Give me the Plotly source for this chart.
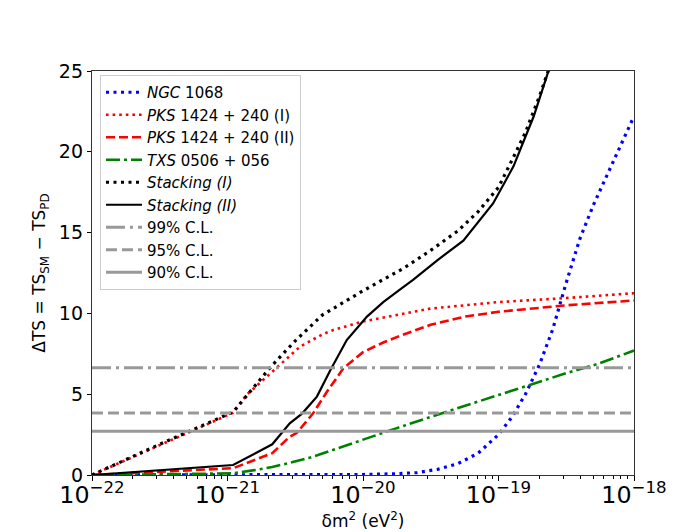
import plotly.graph_objects as go

# ---------------- data (δm² in eV², ΔTS) ----------------
ngc_x = [1.0e-22, 1.0e-21, 3.16e-21, 1.0e-20, 1.78e-20, 2.51e-20, 3.55e-20, 5.01e-20, 7.08e-20,
         1.0e-19, 1.26e-19, 1.58e-19, 2.0e-19, 2.51e-19, 3.16e-19, 3.98e-19, 5.01e-19, 6.31e-19,
         7.94e-19, 1.0e-18]
ngc_y = [0.0, 0.0, 0.01, 0.03, 0.08, 0.15, 0.35, 0.7, 1.35,
         2.5, 3.6, 5.0, 6.8, 9.0, 11.9, 14.6, 16.7, 18.5,
         20.3, 22.2]

pks1_x = [1.0e-22, 3.16e-22, 9.3e-22, 1.1e-21, 1.38e-21, 2.09e-21, 2.45e-21, 3.43e-21, 5.01e-21,
          6.03e-21, 1.0e-20, 1.78e-20, 3.16e-20, 1.0e-19, 3.16e-19, 1.0e-18]
pks1_y = [0.0, 1.85, 3.6, 3.85, 4.95, 6.3, 6.8, 7.94, 8.7,
          8.97, 9.5, 9.9, 10.3, 10.7, 10.95, 11.25]

pks2_x = [1.0e-22, 3.16e-22, 1.1e-21, 2.14e-21, 2.88e-21, 3.24e-21, 4.27e-21, 5.37e-21, 7.16e-21,
          1.0e-20, 1.41e-20, 1.86e-20, 3.16e-20, 5.62e-20, 1.0e-19, 3.16e-19, 1.0e-18]
pks2_y = [0.0, 0.2, 0.42, 1.35, 2.37, 2.6, 3.8, 5.1, 6.6,
          7.6, 8.2, 8.6, 9.3, 9.8, 10.1, 10.5, 10.8]

txs_x = [1.0e-22, 3.16e-22, 1.1e-21, 1.58e-21, 2.14e-21, 2.88e-21, 3.98e-21, 5.75e-21, 1.0e-20,
         1.78e-20, 3.16e-20, 5.5e-20, 1.0e-19, 1.7e-19, 3.16e-19, 5.31e-19, 1.0e-18]
txs_y = [0.0, 0.03, 0.1, 0.3, 0.5, 0.75, 1.05, 1.5, 2.2,
         2.9, 3.6, 4.23, 4.95, 5.57, 6.3, 6.85, 7.7]

stk1_x = [1.0e-22, 3.16e-22, 1.1e-21, 2.09e-21, 3.16e-21, 5.01e-21, 1.0e-20, 2.0e-20, 3.16e-20,
          5.01e-20, 7.08e-20, 1.0e-19, 1.26e-19, 1.58e-19, 2.0e-19, 2.51e-19]
stk1_y = [0.0, 1.9, 3.9, 6.7, 8.3, 9.9, 11.4, 12.8, 13.9,
          15.1, 16.3, 17.8, 19.5, 21.2, 23.4, 25.8]

stk2_x = [1.0e-22, 3.16e-22, 1.1e-21, 2.14e-21, 2.88e-21, 3.55e-21, 4.57e-21, 5.75e-21, 7.59e-21,
          1.07e-20, 1.41e-20, 1.86e-20, 2.34e-20, 3.55e-20, 5.5e-20, 9.12e-20, 1.29e-19,
          1.82e-19, 2.34e-19, 2.51e-19]
stk2_y = [0.0, 0.3, 0.62, 1.9, 3.2, 3.8, 4.85, 6.5, 8.35,
          9.8, 10.7, 11.45, 12.07, 13.3, 14.5, 16.8, 19.1,
          22.2, 25.0, 25.8]

cl_levels = [6.63, 3.84, 2.71]
cl_names = ["99% C.L.", "95% C.L.", "90% C.L."]
x_range_ev2 = [1.0e-22, 1.0e-18]

y_ticks = [0, 5, 10, 15, 20, 25]

# ---------------- figure ----------------
fig = go.Figure()

def add_line(x, y, name, color, width, dash):
    fig.add_trace(go.Scatter(x=x, y=y, mode="lines", name=name,
                             line=dict(color=color, width=width, dash=dash)))

add_line(ngc_x, ngc_y, "<i>NGC</i> 1068", "#0000ff", 3.2, "3px,4.5px")
add_line(pks1_x, pks1_y, "<i>PKS</i> 1424 + 240 (I)", "#ff0000", 2.6, "2.6px,4px")
add_line(pks2_x, pks2_y, "<i>PKS</i> 1424 + 240 (II)", "#ff0000", 2.6, "9px,4px")
add_line(txs_x, txs_y, "<i>TXS</i> 0506 + 056", "#008000", 2.6, "14px,4px,3px,4px")
add_line(stk1_x, stk1_y, "<i>Stacking (I)</i>", "#000000", 3.2, "3px,4.5px")
add_line(stk2_x, stk2_y, "<i>Stacking (II)</i>", "#000000", 2.2, "solid")

cl_dash = ["19px,5px,3px,5px", "11px,5px", "solid"]
for lvl, nm, ds in zip(cl_levels, cl_names, cl_dash):
    add_line(x_range_ev2, [lvl, lvl], nm, "#999999", 3, ds)

# page body has an 8px margin, so the figure starts at (8, 8) on screen
W, H = 683, 524
L, R, T, B = 84, 57, 63, 57
pw, ph = W - L - R, H - T - B

axis_common = dict(showline=True, linecolor="#333333", linewidth=1.3, mirror=True,
                   ticks="outside", tickcolor="#000000", showgrid=False, zeroline=False,
                   automargin=False,
                   tickfont=dict(size=19, color="#000000"))

fig.update_xaxes(type="log", range=[-22, -18], dtick=1, exponentformat="power",
                 showexponent="all", ticklen=5, tickwidth=1, ticklabelstandoff=-6,
                 minor=dict(ticks="outside", ticklen=3, tickcolor="#000000", tickwidth=0.8),
                 title=dict(text="δm<sup>2</sup> (eV<sup>2</sup>)", font=dict(size=17, color="#000"),
                            standoff=6),
                 **axis_common)
fig.update_yaxes(range=[0, 25], tickvals=y_ticks, ticklen=4, tickwidth=1,
                 title=dict(text="ΔTS = TS<sub>SM</sub> − TS<sub>PD</sub>",
                            font=dict(size=17, color="#000"), standoff=8),
                 **axis_common)

fig.update_layout(
    width=W, height=H,
    margin=dict(l=L, r=R, t=T, b=B, pad=0, autoexpand=False),
    paper_bgcolor="white", plot_bgcolor="white",
    font=dict(family="DejaVu Sans", color="#000000"),
    legend=dict(x=8 / pw, y=(ph - 4) / ph, xanchor="left", yanchor="top",
                bgcolor="white", bordercolor="#cccccc", borderwidth=1, itemwidth=36,
                font=dict(size=15, color="#000"), tracegroupgap=0),
    showlegend=True,
)

fig.write_html("out.html")
